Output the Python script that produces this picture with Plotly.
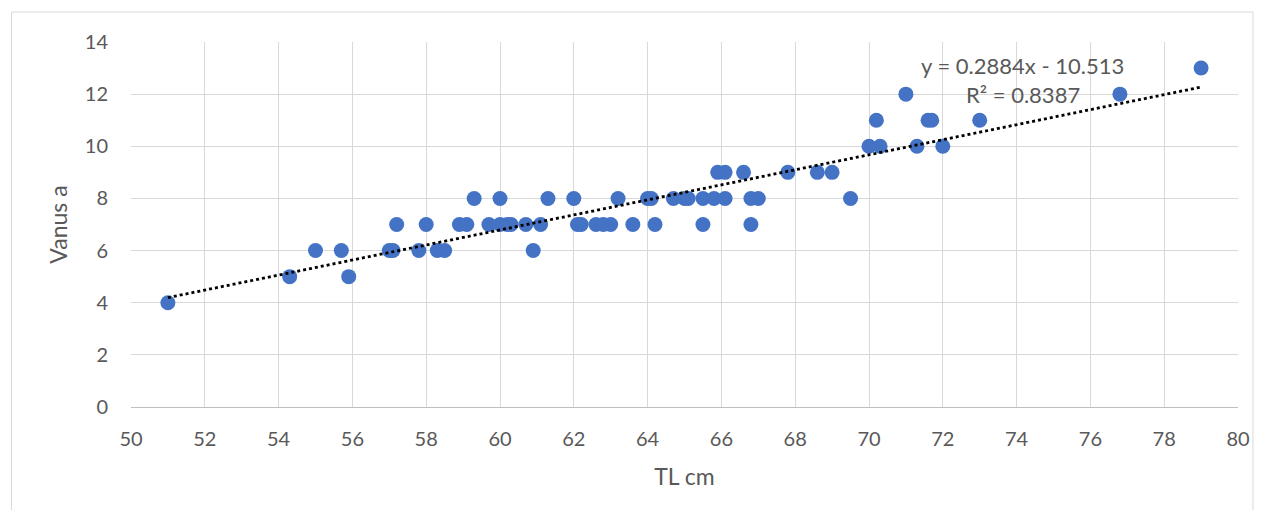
import plotly.graph_objects as go

tl_cm = [51.0, 54.3, 55.0, 55.7, 55.9, 57.0, 57.1, 57.2, 57.8, 58.0, 58.3, 58.5,
         58.9, 59.1, 59.3, 59.7, 60.0, 60.0, 60.2, 60.3, 60.7, 60.9, 61.1, 61.3,
         62.0, 62.1, 62.2, 62.6, 62.8, 63.0, 63.2, 63.6, 64.0, 64.1, 64.2, 64.7,
         65.0, 65.1, 65.5, 65.5, 65.8, 65.9, 66.1, 66.1, 66.6, 66.8, 66.8, 67.0,
         67.8, 68.6, 69.0, 69.5, 70.0, 70.2, 70.3, 71.0, 71.3, 71.6, 71.7, 72.0,
         73.0, 76.8, 79.0]
vanus = [4, 5, 6, 6, 5, 6, 6, 7, 6, 7, 6, 6,
         7, 7, 8, 7, 7, 8, 7, 7, 7, 6, 7, 8,
         8, 7, 7, 7, 7, 7, 8, 7, 8, 8, 7, 8,
         8, 8, 7, 8, 8, 9, 8, 9, 9, 8, 7, 8,
         9, 9, 9, 8, 10, 11, 10, 12, 10, 11, 11, 10,
         11, 12, 13]

slope = 0.2884
intercept = -10.513
r2 = 0.8387
x_ticks = list(range(50, 81, 2))
y_ticks = list(range(0, 15, 2))

trend_x = [min(tl_cm), max(tl_cm)]
trend_y = [slope * v + intercept for v in trend_x]

font_fam = "Lato, 'Open Sans', sans-serif"
txt_col = "#595959"
border_col = "#d9d9d9"

fig = go.Figure()
fig.add_trace(go.Scatter(x=tl_cm, y=vanus, mode="markers",
                         marker=dict(size=15, color="#4472C4", line=dict(width=0)),
                         showlegend=False))
fig.add_trace(go.Scatter(x=trend_x, y=trend_y, mode="lines",
                         line=dict(color="black", width=2.8, dash="dot"),
                         showlegend=False))

fig.update_layout(
    width=1254, height=502,
    margin=dict(l=123, r=19, t=34, b=103),
    paper_bgcolor="white", plot_bgcolor="white",
    font=dict(family=font_fam, color=txt_col, size=20),
    xaxis=dict(range=[50, 80], tickvals=x_ticks, showgrid=True, gridcolor="#d9d9d9",
               gridwidth=1, zeroline=False, showline=True, linecolor="#bfbfbf",
               linewidth=1, ticks="outside", ticklen=14, tickcolor="rgba(0,0,0,0)",
               tickfont=dict(size=20, color=txt_col),
               title=dict(text="TL cm", font=dict(size=23, color=txt_col), standoff=19)),
    yaxis=dict(range=[0, 14], tickvals=y_ticks, showgrid=True, gridcolor="#d9d9d9",
               gridwidth=1, zeroline=False, showline=False,
               ticks="outside", ticklen=18, tickcolor="rgba(0,0,0,0)",
               tickfont=dict(size=20, color=txt_col),
               title=dict(text="Vanus a", font=dict(size=23, color=txt_col), standoff=10)),
    annotations=[
        dict(x=74.16, y=13.08, xref="x", yref="y", showarrow=False,
             text=f"y = {slope}x - {abs(intercept)}", font=dict(size=22, color=txt_col)),
        dict(x=74.18, y=12.0, xref="x", yref="y", showarrow=False,
             text=f"R² = {r2}", font=dict(size=22, color=txt_col)),
    ],
    shapes=[
        dict(type="line", xref="paper", yref="paper", x0=-0.1079, x1=-0.1079,
             y0=-0.30, y1=1.0822, line=dict(color=border_col, width=1), layer="below"),
        dict(type="line", xref="paper", yref="paper", x0=1.0135, x1=1.0135,
             y0=-0.30, y1=1.0822, line=dict(color=border_col, width=1), layer="below"),
        dict(type="line", xref="paper", yref="paper", x0=-0.1079, x1=1.0135,
             y0=1.0822, y1=1.0822, line=dict(color=border_col, width=1), layer="below"),
    ],
)

fig.write_html("out.html")
